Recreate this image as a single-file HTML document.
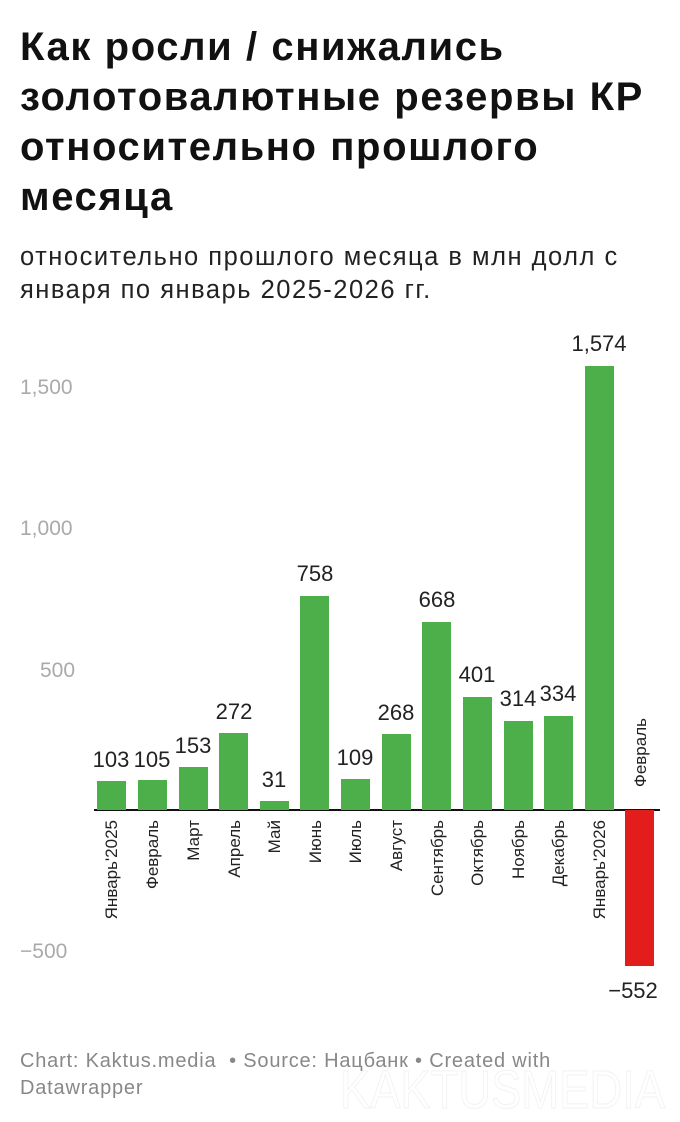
<!DOCTYPE html>
<html><head><meta charset="utf-8"><style>
body{margin:0;width:680px;height:1122px;background:#fff;font-family:"Liberation Sans",sans-serif;position:relative;overflow:hidden}
h1{position:absolute;left:20px;top:22px;margin:0;font-size:40px;line-height:50px;font-weight:bold;color:#111;letter-spacing:1.6px;width:700px;white-space:nowrap}
.sub{position:absolute;left:20px;top:241px;font-size:25.5px;line-height:33px;color:#222;letter-spacing:1.5px;white-space:nowrap}
.foot{position:absolute;left:20px;top:1048px;font-size:20px;line-height:27px;color:#888;letter-spacing:0.8px;white-space:nowrap}
svg{position:absolute;left:0;top:0}
</style></head><body>
<h1>Как росли / снижались<br>золотовалютные резервы КР<br>относительно прошлого<br>месяца</h1>
<div class="sub">относительно прошлого месяца в млн долл с<br>января по январь 2025-2026 гг.</div>
<svg width="680" height="1122" font-family="Liberation Sans, sans-serif">
<text x="340" y="1108" font-size="54" fill="none" stroke="#f2f2f2" stroke-width="1" textLength="325" lengthAdjust="spacingAndGlyphs">KAKTUSMEDIA</text>
<g fill="#aaa" font-size="21">
<text x="20" y="394">1,500</text>
<text x="20" y="535">1,000</text>
<text x="40" y="677">500</text>
<text x="20" y="958">−500</text>
</g>
<line x1="94" x2="660" y1="810" y2="810" stroke="#111" stroke-width="2"/>
<g font-size="22" fill="#222" text-anchor="middle">
<rect x="97" y="781" width="29" height="29" fill="#4caf4a"/><text x="111" y="767">103</text>
<rect x="138" y="780" width="29" height="30" fill="#4caf4a"/><text x="152" y="767">105</text>
<rect x="179" y="767" width="29" height="43" fill="#4caf4a"/><text x="193" y="753">153</text>
<rect x="219" y="733" width="29" height="77" fill="#4caf4a"/><text x="234" y="719">272</text>
<rect x="260" y="801" width="29" height="9" fill="#4caf4a"/><text x="274" y="787">31</text>
<rect x="300" y="596" width="29" height="214" fill="#4caf4a"/><text x="315" y="581">758</text>
<rect x="341" y="779" width="29" height="31" fill="#4caf4a"/><text x="355" y="765">109</text>
<rect x="382" y="734" width="29" height="76" fill="#4caf4a"/><text x="396" y="720">268</text>
<rect x="422" y="622" width="29" height="188" fill="#4caf4a"/><text x="437" y="607">668</text>
<rect x="463" y="697" width="29" height="113" fill="#4caf4a"/><text x="477" y="682">401</text>
<rect x="504" y="721" width="29" height="89" fill="#4caf4a"/><text x="518" y="706">314</text>
<rect x="544" y="716" width="29" height="94" fill="#4caf4a"/><text x="558" y="701">334</text>
<rect x="585" y="366" width="29" height="444" fill="#4caf4a"/><text x="599" y="351">1,574</text>
<rect x="625" y="810" width="29" height="156" fill="#e31c1c"/><text x="633" y="998">−552</text>
</g>
<g font-size="17" fill="#222" text-anchor="end">
<text transform="translate(117,820) rotate(-90)">Январь'2025</text>
<text transform="translate(158,820) rotate(-90)">Февраль</text>
<text transform="translate(199,820) rotate(-90)">Март</text>
<text transform="translate(240,820) rotate(-90)">Апрель</text>
<text transform="translate(280,820) rotate(-90)">Май</text>
<text transform="translate(321,820) rotate(-90)">Июнь</text>
<text transform="translate(361,820) rotate(-90)">Июль</text>
<text transform="translate(402,820) rotate(-90)">Август</text>
<text transform="translate(443,820) rotate(-90)">Сентябрь</text>
<text transform="translate(483,820) rotate(-90)">Октябрь</text>
<text transform="translate(524,820) rotate(-90)">Ноябрь</text>
<text transform="translate(564,820) rotate(-90)">Декабрь</text>
<text transform="translate(605,820) rotate(-90)">Январь'2026</text>
</g>
<text transform="translate(646,718) rotate(-90)" font-size="17" fill="#222" text-anchor="end">Февраль</text>
</svg>
<div class="foot">Chart: Kaktus.media &nbsp;• Source: Нацбанк • Created with<br>Datawrapper</div>
</body></html>
